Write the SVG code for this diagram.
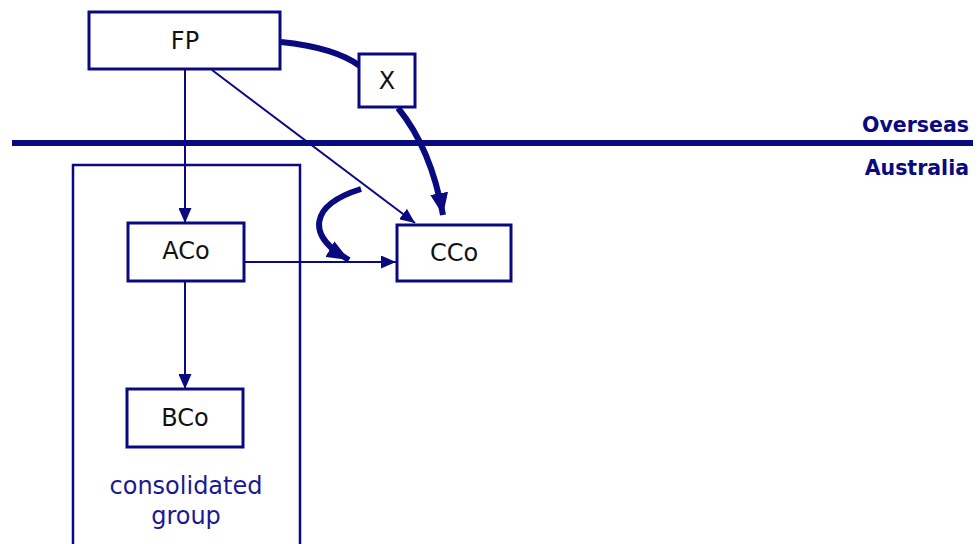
<svg xmlns="http://www.w3.org/2000/svg" width="980" height="544" viewBox="0 0 980 544">
<defs>
<style>
.box{fill:#fff;stroke:#0a0a80;stroke-width:3}
.lbl{font-family:"DejaVu Sans","Liberation Sans",sans-serif;font-size:24px;fill:#111;text-anchor:middle}
.thin{fill:none;stroke:#0a0a80;stroke-width:2}
.thick{fill:none;stroke:#0a0a80;stroke-width:6}
.side{font-family:"DejaVu Sans","Liberation Sans",sans-serif;font-size:20.5px;font-weight:bold;fill:#0a0a80;text-anchor:end}
.grp{font-family:"DejaVu Sans","Liberation Sans",sans-serif;font-size:24px;fill:#1a1a90;text-anchor:middle}
</style>
<marker id="ah" markerWidth="15" markerHeight="13" refX="15" refY="6.5" orient="auto" markerUnits="userSpaceOnUse" viewBox="0 0 15 13">
<path d="M0,0 L15,6.5 L0,13 z" fill="#0a0a80"/>
</marker>
<marker id="ahb" markerWidth="22" markerHeight="18" refX="22" refY="9" orient="auto" markerUnits="userSpaceOnUse" viewBox="0 0 22 18">
<path d="M0,0 L22,9 L0,18 z" fill="#0a0a80"/>
</marker>
</defs>
<rect width="980" height="544" fill="#fff"/>
<g id="divider">
<line x1="12" y1="143" x2="973" y2="143" stroke="#0a0a80" stroke-width="6"/>
<text class="side" x="969" y="132">Overseas</text>
<text class="side" x="969" y="175">Australia</text>
</g>
<g id="consolidated-group">
<rect x="73" y="165" width="227" height="390" fill="none" stroke="#0a0a80" stroke-width="2.5"/>
<text class="grp" x="186" y="494">consolidated</text>
<text class="grp" x="186" y="524">group</text>
</g>
<g id="connectors">
<line class="thin" x1="185" y1="70" x2="185" y2="223" marker-end="url(#ah)"/>
<line class="thin" x1="212" y1="70" x2="415" y2="223" marker-end="url(#ah)"/>
<line class="thin" x1="244" y1="262" x2="396" y2="262" marker-end="url(#ah)"/>
<line class="thin" x1="185" y1="281" x2="185" y2="389" marker-end="url(#ah)"/>
<path class="thick" d="M281,42 C320,46 345,55 360,66"/>
<path class="thick" d="M398,108 C420,135 435,170 443,215" marker-end="url(#ahb)"/>
<path class="thick" d="M361,189 C310,205 305,235 349,260" marker-end="url(#ahb)"/>
</g>
<g id="FP"><rect class="box" x="89" y="12" width="191" height="57"/><text class="lbl" x="185" y="49">FP</text></g>
<g id="X"><rect class="box" x="359" y="54" width="56" height="53"/><text class="lbl" x="387" y="89">X</text></g>
<g id="CCo"><rect class="box" x="397" y="225" width="114" height="56"/><text class="lbl" x="454" y="261">CCo</text></g>
<g id="ACo"><rect class="box" x="128" y="223" width="116" height="58"/><text class="lbl" x="186" y="259">ACo</text></g>
<g id="BCo"><rect class="box" x="127" y="389" width="116" height="58" stroke-width="4"/><text class="lbl" x="185" y="426">BCo</text></g>
</svg>
